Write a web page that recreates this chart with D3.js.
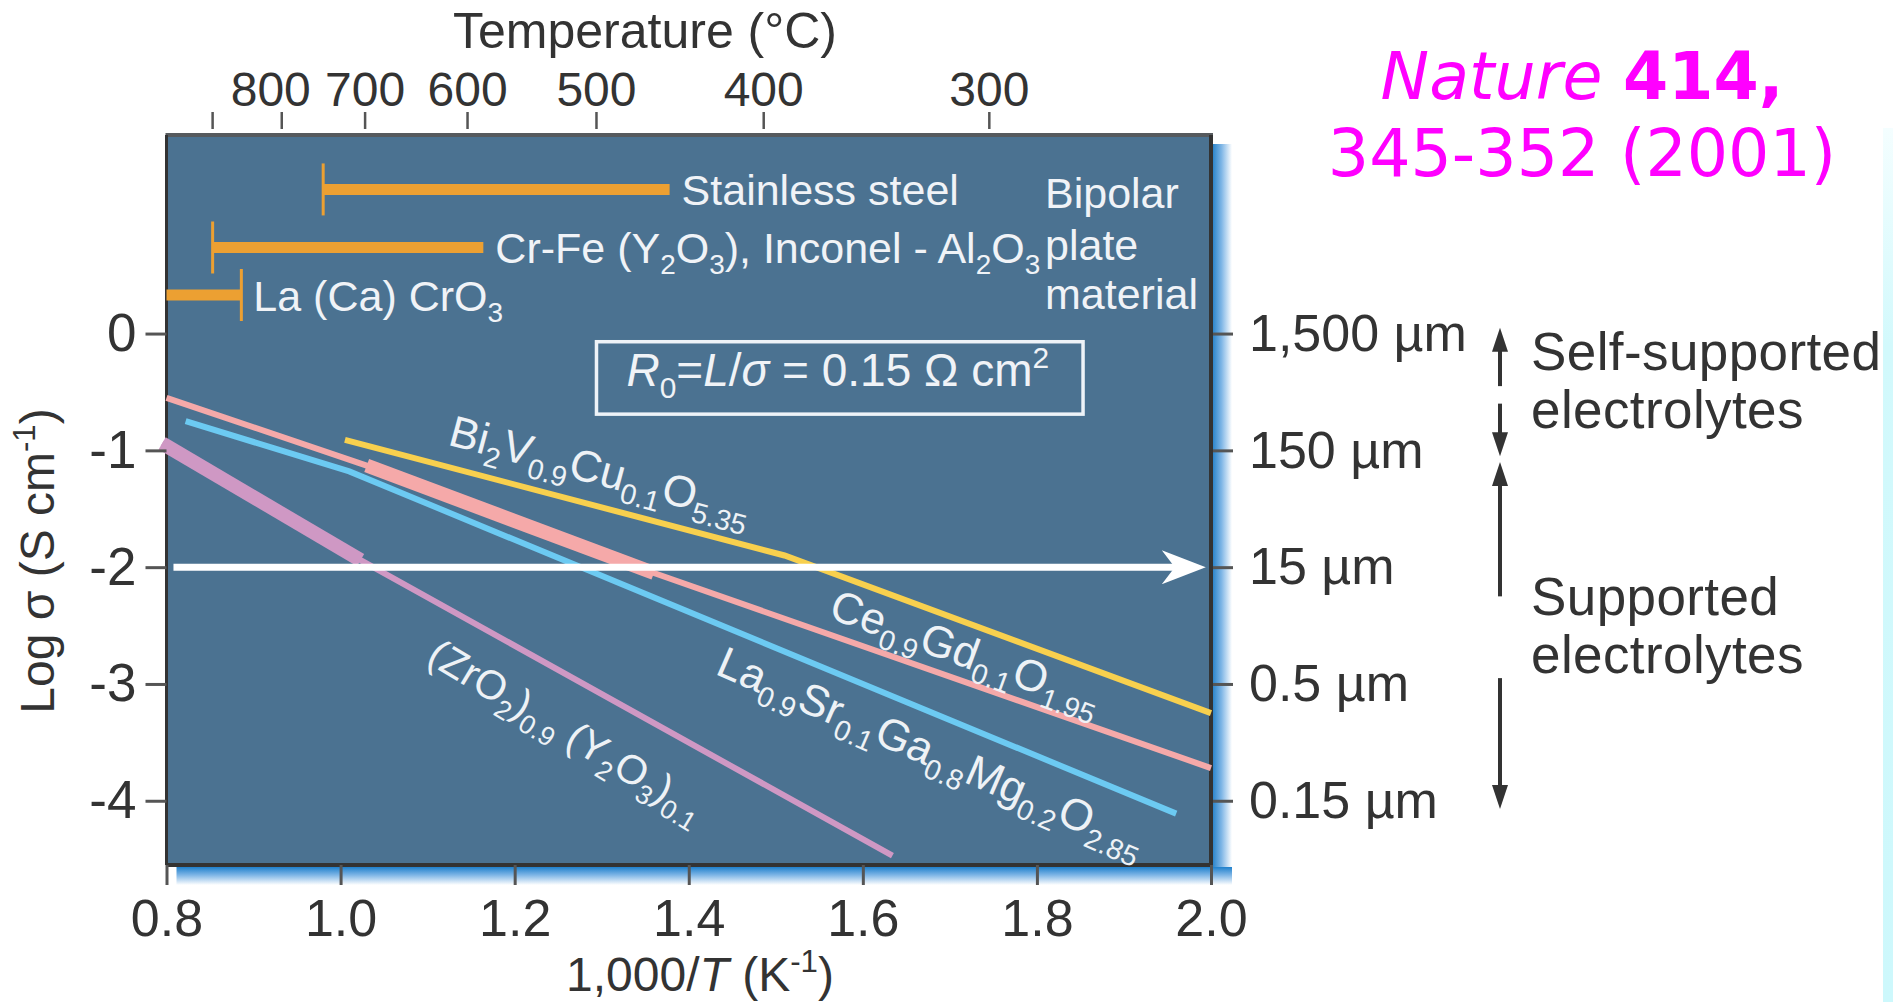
<!DOCTYPE html>
<html>
<head>
<meta charset="utf-8">
<script src="https://cdn.jsdelivr.net/npm/d3@7"></script>
<style>
  html, body { margin: 0; padding: 0; background: #fff; }
  svg { display: block; }
</style>
</head>
<body>
<svg id="chart"></svg>
<script>
// x = 1000/T (K^-1), y = log sigma (S cm^-1)
const xTicks = [0.8, 1.0, 1.2, 1.4, 1.6, 1.8, 2.0];
const yTicks = [0, -1, -2, -3, -4];
const thicknessLabels = ['1,500 µm', '150 µm', '15 µm', '0.5 µm', '0.15 µm'];
const tempTicks = [900, 800, 700, 600, 500, 400, 300];

const bicuvox = [[1.005, -0.91], [1.51, -1.90], [2.0, -3.25]];
const cgo = [[0.8, -0.55], [1.03, -1.13], [1.36, -2.05], [2.0, -3.72]];
const cgoThick = [[1.03, -1.13], [1.36, -2.05]];
const lsgm = [[0.822, -0.75], [1.01, -1.18], [1.96, -4.11]];
const ysz = [[0.795, -0.94], [1.023, -1.94], [1.634, -4.47]];
const yszThick = [[0.795, -0.94], [1.023, -1.94]];

const seriesNames = [
  'Bi_{2}V_{0.9}Cu_{0.1}O_{5.35}',
  'Ce_{0.9}Gd_{0.1}O_{1.95}',
  'La_{0.9}Sr_{0.1}Ga_{0.8}Mg_{0.2}O_{2.85}',
  '(ZrO_{2})_{0.9} (Y_{2}O_{3})_{0.1}'
];
// where each series name sits (x, log sigma) and its slant
const seriesLabelAt = [[1.122, -0.95], [1.559, -2.43], [1.429, -2.91], [1.097, -2.81]];
const seriesLabelAngle = [15, 20, 23.5, 31];

// bipolar plate materials: usable range in 1000/T
const plateNames = ['Stainless steel', 'Cr-Fe (Y_{2}O_{3}), Inconel - Al_{2}O_{3}', 'La (Ca) CrO_{3}'];
const plateRanges = [[0.980, 1.378], [0.853, 1.164], [0.8, 0.886]];
const plateCapSide = ['start', 'start', 'end'];
const plateLevels = [1.234, 0.737, 0.33];
const plateTitle = ['Bipolar', 'plate', 'material'];

const refArrow = { from: 0.808, to: 1.994, level: -2 };
const thicknessArrows = [[-0.45, 0.05], [-0.6, -1.05], [-2.25, -1.1], [-2.95, -4.07]];
const regionText = [['Self-supported', 'electrolytes'], ['Supported', 'electrolytes']];
const regionLevels = [-0.31, -2.41];

const W = 1893, H = 1002;
const plot = { left: 166.5, right: 1211, top: 135, bottom: 865 };
const FONT = '"Liberation Sans", Arial, Helvetica, sans-serif';

const svg = d3.select('#chart').attr('width', W).attr('height', H)
  .attr('viewBox', `0 0 ${W} ${H}`)
  .attr('font-family', FONT);

const x = d3.scaleLinear().domain([0.8, 2.0]).range([plot.left, plot.right]);
const y = d3.scaleLinear().domain([-4.55, 1.70]).range([plot.bottom, plot.top]);

// text with _{sub}, ^{sup} and *italic* pieces
function rich(sel, str, fs) {
  const tokens = str.split(/(_\{[^}]*\}|\^\{[^}]*\}|\*[^*]+\*)/).filter(s => s);
  let cur = 0;
  tokens.forEach(tok => {
    let txt = tok, shift = 0, small = false, ital = false;
    if (tok.startsWith('_{')) { txt = tok.slice(2, -1); shift = 0.25 * fs; small = true; }
    else if (tok.startsWith('^{')) { txt = tok.slice(2, -1); shift = -0.4 * fs; small = true; }
    else if (tok.length > 2 && tok.startsWith('*') && tok.endsWith('*')) { txt = tok.slice(1, -1); ital = true; }
    const t = sel.append('tspan').text(txt);
    if (small) t.attr('font-size', fs * 0.65);
    if (ital) t.attr('font-style', 'italic');
    if (shift !== cur) { t.attr('dy', shift - cur); cur = shift; }
  });
  return sel;
}

// gradients for the blue drop shadow and right strip
const defs = svg.append('defs');
const gR = defs.append('linearGradient').attr('id', 'shR').attr('x1', 0).attr('x2', 1).attr('y1', 0).attr('y2', 0);
gR.append('stop').attr('offset', '0%').attr('stop-color', '#2d86cc');
gR.append('stop').attr('offset', '45%').attr('stop-color', '#7fb6e6');
gR.append('stop').attr('offset', '100%').attr('stop-color', '#ffffff');
const gB = defs.append('linearGradient').attr('id', 'shB').attr('x1', 0).attr('x2', 0).attr('y1', 0).attr('y2', 1);
gB.append('stop').attr('offset', '0%').attr('stop-color', '#1f80cc');
gB.append('stop').attr('offset', '45%').attr('stop-color', '#7fb6e6');
gB.append('stop').attr('offset', '100%').attr('stop-color', '#ffffff');
const gS = defs.append('linearGradient').attr('id', 'strip').attr('x1', 0).attr('x2', 0).attr('y1', 0).attr('y2', 1);
gS.append('stop').attr('offset', '0%').attr('stop-color', '#f4feff');
gS.append('stop').attr('offset', '25%').attr('stop-color', '#d2f9fc');
gS.append('stop').attr('offset', '100%').attr('stop-color', '#cdf8fc');

svg.append('rect').attr('width', W).attr('height', H).attr('fill', '#fff');
svg.append('rect').attr('x', 1883).attr('y', 128).attr('width', 10).attr('height', H - 128).attr('fill', 'url(#strip)');

// shadow
svg.append('rect').attr('x', plot.right + 2).attr('y', plot.top + 9)
  .attr('width', 19).attr('height', plot.bottom - plot.top + 11).attr('fill', 'url(#shR)');
svg.append('rect').attr('x', plot.left + 10).attr('y', plot.bottom + 2)
  .attr('width', plot.right - plot.left + 11).attr('height', 18).attr('fill', 'url(#shB)');

// plot panel
svg.append('rect').attr('x', plot.left).attr('y', plot.top)
  .attr('width', plot.right - plot.left).attr('height', plot.bottom - plot.top)
  .attr('fill', '#4b7291');
svg.append('line').attr('x1', plot.left - 1).attr('x2', plot.right + 2).attr('y1', plot.top).attr('y2', plot.top)
  .attr('stroke', '#565a5e').attr('stroke-width', 4);
svg.append('line').attr('x1', plot.left).attr('x2', plot.left).attr('y1', plot.top).attr('y2', plot.bottom)
  .attr('stroke', '#333').attr('stroke-width', 3);
svg.append('line').attr('x1', plot.right).attr('x2', plot.right).attr('y1', plot.top).attr('y2', plot.bottom + 2)
  .attr('stroke', '#333').attr('stroke-width', 4);
svg.append('line').attr('x1', plot.left).attr('x2', plot.right + 2).attr('y1', plot.bottom).attr('y2', plot.bottom)
  .attr('stroke', '#333').attr('stroke-width', 4);

// bipolar plate bars
const orange = '#eca032';
const plates = svg.append('g');
plateNames.forEach((name, i) => {
  const [a, b] = plateRanges[i];
  const yy = y(plateLevels[i]);
  plates.append('line').attr('x1', x(a)).attr('x2', x(b)).attr('y1', yy).attr('y2', yy)
    .attr('stroke', orange).attr('stroke-width', 11);
  const cx = plateCapSide[i] === 'start' ? x(a) : x(b);
  plates.append('line').attr('x1', cx).attr('x2', cx).attr('y1', yy - 26).attr('y2', yy + 26)
    .attr('stroke', orange).attr('stroke-width', 3);
  rich(plates.append('text').attr('x', x(b) + 12).attr('y', yy + 16).attr('font-size', 43).attr('fill', '#f0f3f7'), name, 43);
});
plateTitle.forEach((t, i) => {
  svg.append('text').attr('x', 1045).attr('y', [208, 260, 309][i])
    .attr('font-size', 43).attr('fill', '#f0f3f7').text(t);
});

// R0 box
const box = { x0: 1.294, x1: 1.853, y0: -0.07, y1: -0.69 };
svg.append('rect').attr('x', x(box.x0)).attr('y', y(box.y0))
  .attr('width', x(box.x1) - x(box.x0)).attr('height', y(box.y1) - y(box.y0))
  .attr('fill', 'none').attr('stroke', '#eef3f8').attr('stroke-width', 3.5);
rich(svg.append('text').attr('x', (x(box.x0) + x(box.x1)) / 2 - 2).attr('y', y(-0.45))
  .attr('text-anchor', 'middle').attr('font-size', 46).attr('fill', '#f0f3f7'),
  '*R*_{0}=*L*/*σ* = 0.15 Ω cm^{2}', 46);

// conductivity lines
const line = d3.line().x(d => x(d[0])).y(d => y(d[1]));
const series = [
  { pts: bicuvox, color: '#f8d04e' },
  { pts: cgo, color: '#f5a9a9', thick: cgoThick },
  { pts: lsgm, color: '#6ccaf2' },
  { pts: ysz, color: '#cf98c4', thick: yszThick }
];
const lines = svg.append('g').attr('fill', 'none');
series.forEach(s => {
  lines.append('path').attr('d', line(s.pts)).attr('stroke', s.color).attr('stroke-width', 6);
});

// reference arrow at 15 µm
const ay = y(refArrow.level);
const tipX = x(refArrow.to);
svg.append('line').attr('x1', x(refArrow.from)).attr('x2', tipX - 22).attr('y1', ay).attr('y2', ay)
  .attr('stroke', '#fff').attr('stroke-width', 7);
svg.append('path')
  .attr('d', `M${tipX},${ay} L${tipX - 44},${ay - 17} L${tipX - 31},${ay} L${tipX - 44},${ay + 17} Z`)
  .attr('fill', '#fff');

series.forEach(s => {
  if (s.thick) lines.append('path').attr('d', line(s.thick)).attr('stroke', s.color).attr('stroke-width', 14);
});

// series labels
seriesNames.forEach((name, i) => {
  const [lx, ly] = seriesLabelAt[i];
  const fs = i === 3 ? 41 : 44;
  rich(svg.append('text')
    .attr('transform', `translate(${x(lx)},${y(ly)}) rotate(${seriesLabelAngle[i]})`)
    .attr('font-size', fs).attr('fill', '#eef2f6'), name, fs);
});

// axes
const styleAxis = (g, fs) => {
  g.attr('font-family', FONT).attr('font-size', fs);
  g.select('.domain').remove();
  g.selectAll('.tick line').attr('stroke', '#555').attr('stroke-width', 3);
  g.selectAll('.tick text').attr('fill', '#333');
};

svg.append('g').attr('transform', `translate(0,${plot.bottom})`)
  .call(d3.axisBottom(x).tickValues(xTicks).tickFormat(d3.format('.1f')).tickSize(20).tickPadding(14))
  .call(g => styleAxis(g, 52));

svg.append('g').attr('transform', `translate(${plot.left},0)`)
  .call(d3.axisLeft(y).tickValues(yTicks).tickFormat(d => String(d)).tickSize(21).tickPadding(9))
  .call(g => styleAxis(g, 53));

svg.append('g').attr('transform', `translate(${plot.right + 2},0)`)
  .call(d3.axisRight(y).tickValues(yTicks).tickFormat((d, i) => thicknessLabels[i]).tickSize(20).tickPadding(16))
  .call(g => styleAxis(g, 52));

const invT = t => 1000 / (t + 273.15);
svg.append('g').attr('transform', `translate(0,129)`)
  .call(d3.axisTop(x).tickValues(tempTicks.map(invT))
    .tickFormat(v => { const t = Math.round(1000 / v - 273.15); return t === 900 ? '' : String(t); })
    .tickSize(17).tickPadding(6))
  .call(g => styleAxis(g, 48))
  .call(g => g.selectAll('.tick line').attr('stroke-width', 2.5))
  .call(g => g.selectAll('.tick text').filter(d => Math.round(1000 / d - 273.15) === 800).attr('dx', -11));

// axis titles
svg.append('text').attr('x', 645).attr('y', 48).attr('text-anchor', 'middle')
  .attr('font-size', 50).attr('fill', '#333').text('Temperature (°C)');
rich(svg.append('text').attr('x', 700).attr('y', 991).attr('text-anchor', 'middle')
  .attr('font-size', 48).attr('fill', '#333'), '1,000/*T* (K^{-1})', 48);
rich(svg.append('text').attr('transform', 'translate(54,561) rotate(-90)').attr('text-anchor', 'middle')
  .attr('font-size', 48).attr('fill', '#333'), 'Log σ (S cm^{-1})', 48);

// electrolyte thickness regions
const ax = 1500;
thicknessArrows.forEach(([from, to]) => {
  const y0 = y(from), y1 = y(to);
  const dir = y1 > y0 ? 1 : -1;
  svg.append('line').attr('x1', ax).attr('x2', ax).attr('y1', y0).attr('y2', y1 - dir * 18)
    .attr('stroke', '#333').attr('stroke-width', 4);
  svg.append('path').attr('d', `M${ax},${y1} L${ax - 8},${y1 - dir * 24} L${ax + 8},${y1 - dir * 24} Z`)
    .attr('fill', '#333');
});
regionText.forEach((lns, i) => {
  lns.forEach((t, j) => {
    svg.append('text').attr('x', 1531).attr('y', y(regionLevels[i]) + j * 58)
      .attr('font-size', 53).attr('letter-spacing', 0.4).attr('fill', '#333').text(t);
  });
});

// citation
const cite = svg.append('text').attr('x', 1582).attr('text-anchor', 'middle')
  .attr('font-family', '"DejaVu Sans", Verdana, sans-serif').attr('font-size', 65).attr('fill', '#ff00ff');
cite.append('tspan').attr('x', 1582).attr('y', 99).attr('font-style', 'italic').text('Nature ');
cite.append('tspan').attr('font-weight', 'bold').text('414,');
cite.append('tspan').attr('x', 1582).attr('y', 176).text('345-352 (2001)');
</script>
</body>
</html>
